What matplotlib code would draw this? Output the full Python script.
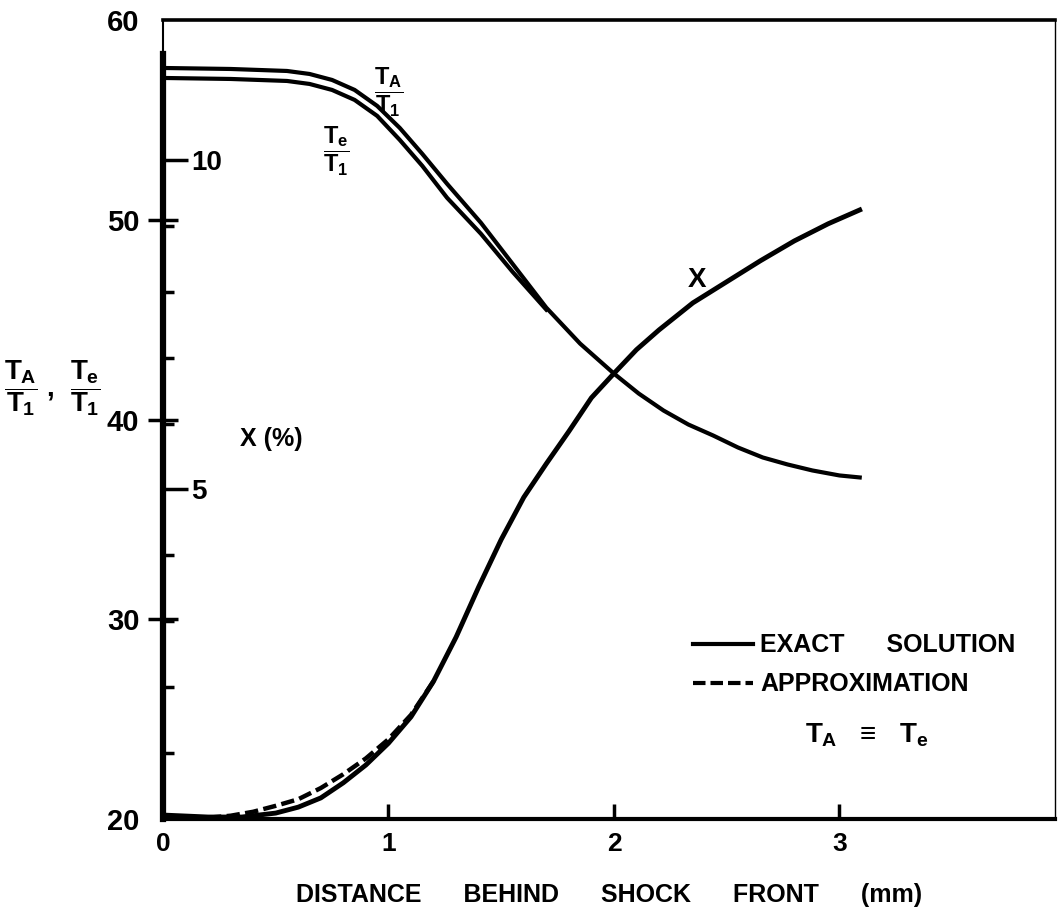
import matplotlib
matplotlib.use("Agg")
import matplotlib.pyplot as plt
from matplotlib.lines import Line2D

plt.rcParams["font.family"] = ["Liberation Sans", "DejaVu Sans"]
plt.rcParams["font.weight"] = "bold"
plt.rcParams["axes.labelweight"] = "bold"
plt.rcParams["mathtext.fontset"] = "custom"
plt.rcParams["mathtext.rm"] = "Liberation Sans:bold"
plt.rcParams["mathtext.it"] = "Liberation Sans:bold"
plt.rcParams["mathtext.bf"] = "Liberation Sans:bold"

# distance behind shock front (mm) and temperature ratios
x_ta = [0, 0.3, 0.55, 0.65, 0.75, 0.85, 0.95, 1.05, 1.15, 1.26, 1.41, 1.55,
        1.70, 1.85, 2.0, 2.11, 2.22, 2.33, 2.44, 2.55, 2.66, 2.77, 2.88, 3.0, 3.09]
ta_t1 = [57.6, 57.55, 57.45, 57.3, 57.0, 56.5, 55.7, 54.6, 53.3, 51.8, 49.85,
         47.8, 45.6, 43.8, 42.3, 41.3, 40.45, 39.75, 39.2, 38.6, 38.1, 37.75,
         37.45, 37.2, 37.1]

x_te = [0, 0.3, 0.55, 0.65, 0.75, 0.85, 0.95, 1.05, 1.15, 1.26, 1.41, 1.55, 1.70]
te_t1 = [57.1, 57.05, 56.95, 56.8, 56.5, 56.0, 55.2, 54.0, 52.7, 51.1, 49.3,
         47.4, 45.5]

# degree of ionization X (%)
x_ion = [0, 0.2, 0.35, 0.5, 0.6, 0.7, 0.8, 0.9, 1.0, 1.1, 1.2, 1.3, 1.4, 1.5,
         1.6, 1.7, 1.8, 1.9, 2.0, 2.1, 2.2, 2.35, 2.5, 2.65, 2.8, 2.95, 3.09]
ion_exact = [0.06, 0.03, 0.03, 0.09, 0.18, 0.32, 0.55, 0.82, 1.15, 1.55, 2.09,
             2.76, 3.52, 4.24, 4.88, 5.39, 5.88, 6.39, 6.76, 7.12, 7.42, 7.83,
             8.15, 8.47, 8.77, 9.03, 9.24]

x_approx = [0.2, 0.3, 0.4, 0.5, 0.6, 0.7, 0.8, 0.9, 1.0, 1.1, 1.2]
ion_approx = [0.02, 0.05, 0.11, 0.20, 0.30, 0.47, 0.68, 0.92, 1.21, 1.58, 2.09]

fig = plt.figure(figsize=(10.59, 9.19), dpi=100)
ax = fig.add_axes([0.1539, 0.1088, 0.8423, 0.8694])
ax2 = ax.twinx()

ax.plot(x_ta, ta_t1, color="black", lw=3, solid_joinstyle="round", zorder=3)
ax.plot(x_te, te_t1, color="black", lw=3, solid_joinstyle="round", zorder=3)
ax2.plot(x_approx, ion_approx, color="black", lw=3.2, dashes=(3, 1.2), zorder=2)
ax2.plot(x_ion, ion_exact, color="black", lw=3.5, solid_joinstyle="round", zorder=3)

ax.set_xlim(0, 3.956)
ax.set_ylim(20, 60)
ax2.set_ylim(0, 40 / 3.3)

# frame
ax.spines["top"].set_linewidth(2.6)
ax.spines["bottom"].set_linewidth(3)
ax.spines["right"].set_linewidth(1)
ax.spines["left"].set_linewidth(1.5)
for s in ["top", "bottom", "right"]:
    ax2.spines[s].set_visible(False)
ax2.spines["left"].set_visible(True)
ax2.spines["left"].set_linewidth(4.5)
ax2.spines["left"].set_bounds(0, 11.6)

ax.set_xticks([0, 1, 2, 3])
ax.set_xticklabels(["0", "1", "2", "3"])
ax.tick_params(axis="x", direction="in", length=11, width=2.5, pad=9, labelsize=19)
ax.get_xaxis().get_major_ticks()[0].tick1line.set_visible(False)

ax.set_yticks([20, 30, 40, 50, 60])
ax.tick_params(axis="y", direction="inout", length=22, width=2.5, pad=6, labelsize=21)
yt = ax.get_yaxis().get_major_ticks()
yt[0].tick1line.set_visible(False)
yt[-1].tick1line.set_visible(False)

# X (%) scale drawn inside the left edge
ax2.yaxis.set_ticks_position("left")
ax2.set_yticks([5, 10])
ax2.set_yticks([1, 2, 3, 4, 6, 7, 8, 9], minor=True)
ax2.tick_params(axis="y", which="major", direction="in", length=18, width=2.5,
                pad=-20, labelsize=20, left=True, right=False,
                labelleft=True, labelright=False)
ax2.tick_params(axis="y", which="minor", direction="in", length=8, width=2.5,
                left=True, right=False)
for lab in ax2.get_yticklabels():
    lab.set_horizontalalignment("left")

ax.set_xlabel("DISTANCE      BEHIND      SHOCK      FRONT      (mm)",
              fontsize=18, labelpad=20)

fig.text(0.004, 0.578, r"$\dfrac{T_A}{T_1}$ ,  $\dfrac{T_e}{T_1}$", fontsize=20,
         ha="left", va="center")

ax.text(1.0, 56.4, r"$\dfrac{T_A}{T_1}$", fontsize=17, ha="center", va="center")
ax.text(0.77, 53.4, r"$\dfrac{T_e}{T_1}$", fontsize=17, ha="center", va="center")
ax.text(2.37, 47.0, "X", fontsize=20, ha="center", va="center")
ax.text(0.48, 39.0, "X (%)", fontsize=18, ha="center", va="center")

handles = [Line2D([], [], color="black", lw=3),
           Line2D([], [], color="black", lw=3, dashes=(3, 1.2))]
ax.legend(handles, ["EXACT      SOLUTION", "APPROXIMATION"], loc="upper left",
          bbox_to_anchor=(0.58, 0.248), frameon=False, fontsize=18,
          handlelength=2.4, handletextpad=0.3, labelspacing=0.6, borderpad=0)
ax.text(3.12, 24.2, r"$T_A$   ≡   $T_e$", fontsize=20, ha="center", va="center")

fig.savefig("out.png", dpi=100)
